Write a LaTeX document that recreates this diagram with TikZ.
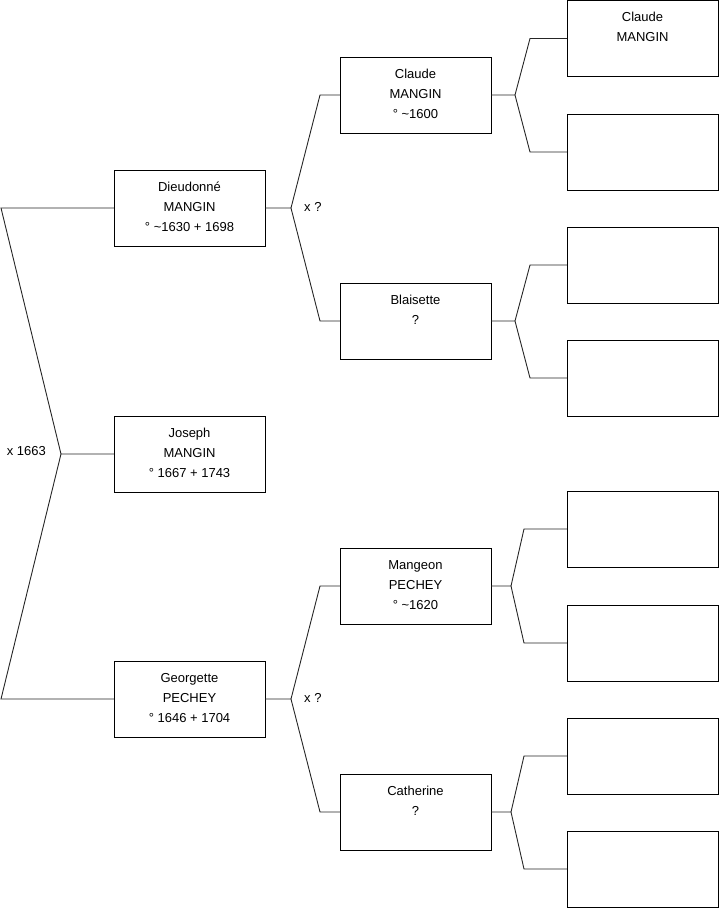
\documentclass[tikz,border=0pt]{standalone}
\usepackage{fontspec}
\setmainfont{Liberation Sans}
\newcommand\pb[1]{\parbox[t][76pt][t]{151pt}{\centering\fontsize{13}{20}\selectfont\rule{0pt}{21.3pt}#1}}
\tikzset{
  person/.style={draw=black, line width=0.9pt, inner sep=0pt, outer sep=0pt, anchor=north west, fill=white},
  link/.style={draw=black!85, line width=0.9pt},
  marr/.style={font=\fontsize{13}{15}\selectfont, inner sep=0pt}
}
\begin{document}
\begin{tikzpicture}[x=1pt,y=-1pt]
\useasboundingbox (0,0) rectangle (719,908);
% generation 1-3
\node[person] (joseph) at (114,416) {\pb{Joseph\\MANGIN\\° 1667 + 1743}};
\node[person] (dieu) at (114,170) {\pb{Dieudonné\\MANGIN\\° \textasciitilde1630 + 1698}};
\node[person] (georg) at (114,661) {\pb{Georgette\\PECHEY\\° 1646 + 1704}};
\node[person] (claude) at (340,57) {\pb{Claude\\MANGIN\\° \textasciitilde1600}};
\node[person] (blais) at (340,283) {\pb{Blaisette\\?}};
\node[person] (mangeon) at (340,548) {\pb{Mangeon\\PECHEY\\° \textasciitilde1620}};
\node[person] (cath) at (340,774) {\pb{Catherine\\?}};
% generation 4
\node[person] (ga) at (567,0.5) {\pb{Claude\\MANGIN}};
\node[person] (gb) at (567,114) {\pb{}};
\node[person] (gc) at (567,227) {\pb{}};
\node[person] (gd) at (567,340) {\pb{}};
\node[person] (ge) at (567,491) {\pb{}};
\node[person] (gf) at (567,605) {\pb{}};
\node[person] (gg) at (567,718) {\pb{}};
\node[person] (gh) at (567,831) {\pb{}};
% junction points
\coordinate (m0) at (61,454);
\coordinate (m1) at (291,208);
\coordinate (m2) at (291,699);
\coordinate (k1) at (515,95);
\coordinate (k2) at (515,321);
\coordinate (k3) at (511,586);
\coordinate (k4) at (511,812);
% connectors
\draw[link] (joseph.west) -- (m0) -- (1,208) -- (dieu.west);
\draw[link] (m0) -- (1,699) -- (georg.west);
\draw[link] (dieu.east) -- (m1) -- (320,95) -- (claude.west);
\draw[link] (m1) -- (320,321) -- (blais.west);
\draw[link] (georg.east) -- (m2) -- (320,586) -- (mangeon.west);
\draw[link] (m2) -- (320,812) -- (cath.west);
\draw[link] (claude.east) -- (k1) -- ([xshift=-37pt]ga.west) -- (ga.west);
\draw[link] (k1) -- ([xshift=-37pt]gb.west) -- (gb.west);
\draw[link] (blais.east) -- (k2) -- ([xshift=-37pt]gc.west) -- (gc.west);
\draw[link] (k2) -- ([xshift=-37pt]gd.west) -- (gd.west);
\draw[link] (mangeon.east) -- (k3) -- ([xshift=-43pt]ge.west) -- (ge.west);
\draw[link] (k3) -- ([xshift=-43pt]gf.west) -- (gf.west);
\draw[link] (cath.east) -- (k4) -- ([xshift=-43pt]gg.west) -- (gg.west);
\draw[link] (k4) -- ([xshift=-43pt]gh.west) -- (gh.west);
% marriage labels
\node[marr, anchor=east] (l0) at (46,451.5) {x 1663};
\node[marr, anchor=west] (l1) at (304,207) {x ?};
\node[marr, anchor=west] (l2) at (304,698) {x ?};
\end{tikzpicture}
\end{document}
